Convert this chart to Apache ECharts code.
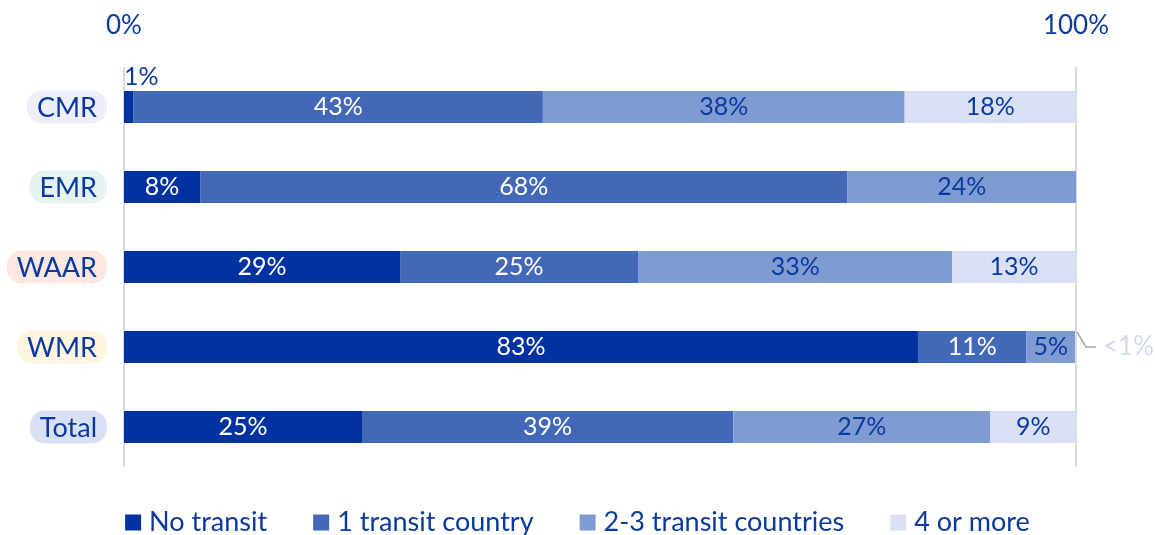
<!DOCTYPE html>
<html><head><meta charset="utf-8">
<script src="https://cdn.jsdelivr.net/npm/echarts@6/dist/echarts.min.js"></script>
<style>html,body{margin:0;padding:0;background:#fff}#c{width:1155px;height:535px}</style>
</head><body><div id="c"></div>
<script>
const categories = ['CMR', 'EMR', 'WAAR', 'WMR', 'Total'];
const seriesNames = ['No transit', '1 transit country', '2-3 transit countries', '4 or more'];
const noTransit = [1, 8, 29, 83.4, 25];
const oneTransit = [43, 68, 25, 11.4, 39];
const twoThree = [38, 24, 33, 5.1, 27];
const fourPlus = [18, 0, 13, 0.1, 9];
const axisTicks = [0, 100];

const colors = ['#0033A1', '#4368B8', '#7F9BD2', '#D9E0F3'];
const dark = '#0A3A9E';
const catBg = {CMR: '#ECEFFA', EMR: '#E5F3F3', WAAR: '#FDE8E1', WMR: '#FEF5E0', Total: '#D9E0F3'};
const FONT = 'Lato';

function fmt(v) {
  if (v <= 0) return '';
  if (v < 1) return '<1%';
  return Math.round(v) + '%';
}

const allData = [noTransit, oneTransit, twoThree, fourPlus];
const rich = {};
categories.forEach((c, i) => {
  rich['c' + i] = {
    backgroundColor: catBg[c], borderRadius: 15, padding: [4, 10, 2, 10],
    color: dark, fontSize: 27, fontFamily: FONT, lineHeight: 30
  };
});

const series = allData.map((arr, si) => ({
  name: seriesNames[si],
  type: 'bar',
  stack: 'total',
  barWidth: 32,
  itemStyle: {color: colors[si]},
  label: {
    show: true, position: 'inside', fontSize: 25, fontFamily: FONT,
    color: si < 2 ? '#fff' : dark,
    formatter: p => fmt(p.value)
  },
  data: arr.map((v, i) => {
    const d = {value: v};
    if (si === 0 && v < 3) {
      d.label = {position: [0, -2], align: 'left', verticalAlign: 'bottom', color: dark};
    }
    if (v > 0 && v < 1) {
      d.label = {position: 'right', distance: 27, color: '#D2DAEF', fontSize: 26};
    }
    return d;
  })
}));

const chart = echarts.init(document.getElementById('c'));
chart.setOption({
  animation: false,
  grid: {left: 124, right: 79, top: 67, bottom: 68},
  xAxis: {
    type: 'value', position: 'top', min: axisTicks[0], max: axisTicks[1], interval: 100,
    axisLine: {show: false}, axisTick: {show: false},
    splitLine: {show: true, lineStyle: {color: '#D9D9D9', width: 2}},
    axisLabel: {formatter: '{value}%', color: dark, fontSize: 26, fontFamily: FONT, margin: 28}
  },
  yAxis: {
    type: 'category', data: categories, inverse: true,
    axisLine: {show: false}, axisTick: {show: false},
    axisLabel: {
      margin: 17, formatter: (v, i) => '{c' + i + '|' + v + '}', rich: rich
    }
  },
  legend: {
    top: 509, left: 'center', itemWidth: 16, itemHeight: 16, itemGap: 46,
    icon: 'rect', padding: 0,
    textStyle: {color: dark, fontSize: 27, fontFamily: FONT, padding: [0, 0, 0, 3]},
    data: seriesNames
  },
  series: series
});

// leader line for tiny segment labels
const graphics = [];
categories.forEach((c, i) => {
  const tot = allData.reduce((s, a) => s + a[i], 0);
  const last = fourPlus[i];
  if (last > 0 && last < 1) {
    const p = chart.convertToPixel({gridIndex: 0}, [tot, i]);
    graphics.push({
      type: 'polyline', silent: true,
      shape: {points: [[p[0] + 1, p[1] - 15], [p[0] + 10, p[1]], [p[0] + 20, p[1]]]},
      style: {stroke: '#A6A6A6', lineWidth: 1.5, fill: null}
    });
  }
});
chart.setOption({graphic: graphics});
</script></body></html>
